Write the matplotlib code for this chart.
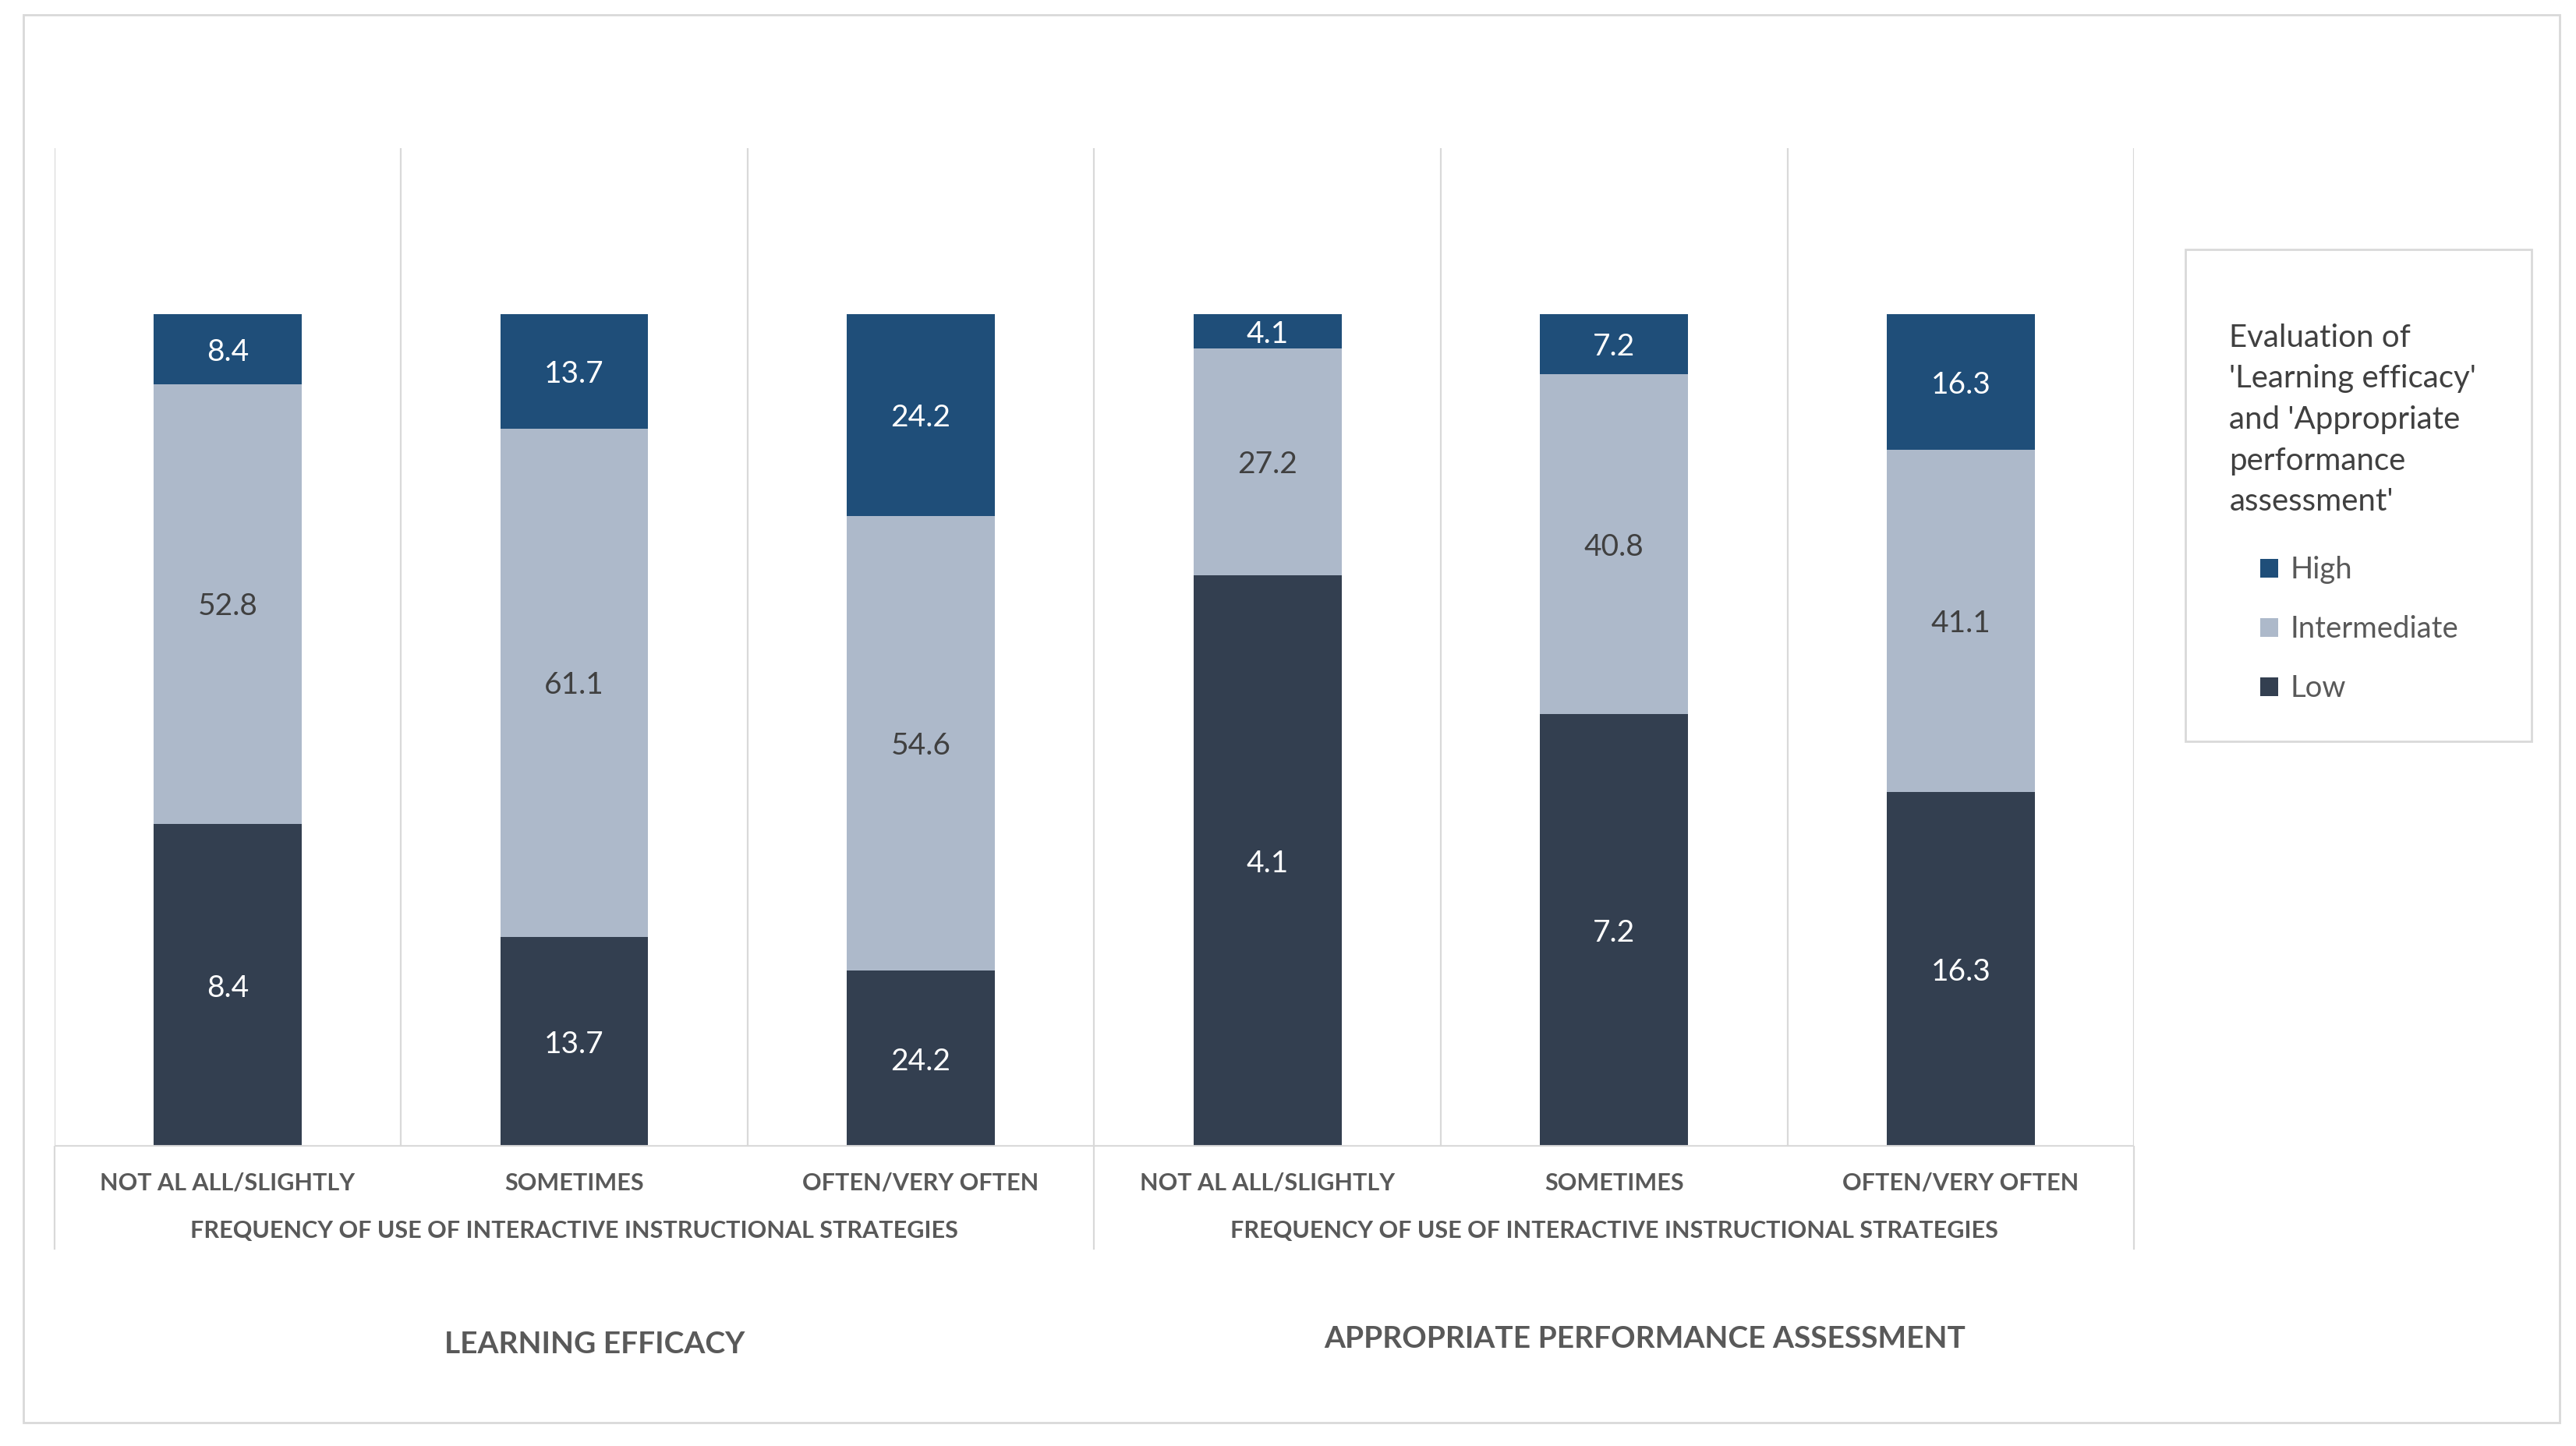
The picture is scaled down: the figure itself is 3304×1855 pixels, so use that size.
import matplotlib
matplotlib.use("Agg")
import matplotlib.pyplot as plt
from matplotlib.patches import Patch, Rectangle
import numpy as np

plt.rcParams['font.family'] = ['Lato', 'DejaVu Sans']

categories = ["NOT AL ALL/SLIGHTLY", "SOMETIMES", "OFTEN/VERY OFTEN",
              "NOT AL ALL/SLIGHTLY", "SOMETIMES", "OFTEN/VERY OFTEN"]
group_axis_label = "FREQUENCY OF USE OF INTERACTIVE INSTRUCTIONAL STRATEGIES"
groups = ["LEARNING EFFICACY", "APPROPRIATE PERFORMANCE ASSESSMENT"]

high = [8.4, 13.7, 24.2, 4.1, 7.2, 16.3]
intermediate = [52.8, 61.1, 54.6, 27.2, 40.8, 41.1]
low = [38.8, 25.2, 21.2, 68.7, 52.0, 42.6]

high_labels = ["8.4", "13.7", "24.2", "4.1", "7.2", "16.3"]
intermediate_labels = ["52.8", "61.1", "54.6", "27.2", "40.8", "41.1"]
low_labels = ["8.4", "13.7", "24.2", "4.1", "7.2", "16.3"]

legend_title = "Evaluation of\n'Learning efficacy'\nand 'Appropriate\nperformance\nassessment'"
series_names = ["High", "Intermediate", "Low"]

c_high = "#1F4E79"
c_int = "#ADB9CA"
c_low = "#333F50"
grid_c = "#D9D9D9"
txt_c = "#595959"

fig = plt.figure(figsize=(33.04, 18.55), dpi=100)

# outer border
fig.patches.append(Rectangle((30/3304, 1-1825/1855), (3283-30)/3304, (1825-19)/1855,
                             transform=fig.transFigure, fill=False, edgecolor=grid_c, lw=2))

L = 33/1568; R = 1299/1568
B = 1 - 698/880; T = 1 - 90/880
ax = fig.add_axes([L, B, R-L, T-B])

x = np.arange(len(categories))
w = 0.427
low_a = np.array(low); int_a = np.array(intermediate); high_a = np.array(high)
ax.bar(x, low_a, w, color=c_low, zorder=2)
ax.bar(x, int_a, w, bottom=low_a, color=c_int, zorder=2)
ax.bar(x, high_a, w, bottom=low_a+int_a, color=c_high, zorder=2)

fs_d = 28
for i in range(len(x)):
    ax.text(x[i], low_a[i]/2, low_labels[i], ha='center', va='center_baseline', color='white', fontsize=fs_d, zorder=3)
    ax.text(x[i], low_a[i]+int_a[i]/2, intermediate_labels[i], ha='center', va='center_baseline', color='#404040', fontsize=fs_d, zorder=3)
    ax.text(x[i], low_a[i]+int_a[i]+high_a[i]/2, high_labels[i], ha='center', va='center_baseline', color='white', fontsize=fs_d, zorder=3)

ax.set_xlim(-0.5, len(x)-0.5)
ax.set_ylim(0, 120)
for s in ax.spines.values():
    s.set_visible(False)
ax.set_xticks([]); ax.set_yticks([])

for xv in np.arange(-0.5, len(x), 1.0):
    ax.axvline(xv, color=grid_c, lw=1.6, zorder=1)
for xv in [-0.5, 2.5, 5.5]:
    ax.axvline(xv, ymin=-0.102, ymax=0, color=grid_c, lw=1.6, clip_on=False)
ax.axhline(0, color=grid_c, lw=3, zorder=4)

tr = ax.get_xaxis_transform()
for i, c in enumerate(categories):
    ax.text(x[i], -0.0362, c, transform=tr, ha='center', va='center', color=txt_c, fontsize=22,
            fontweight='bold', clip_on=False)
for g in range(2):
    ax.text(1 + 3*g, -0.084, group_axis_label, transform=tr, ha='center', va='center', color=txt_c,
            fontsize=22, fontweight='bold', clip_on=False)

fig.text(362/1568, 1-818/880, groups[0], ha='center', va='center', color=txt_c, fontsize=28, fontweight='bold')
fig.text(1001/1568, 1-815/880, groups[1], ha='center', va='center', color=txt_c, fontsize=28, fontweight='bold')

# legend box
fig.patches.append(Rectangle((1330/1568, 1-451/880), (1541-1330)/1568, (451-152)/880,
                             transform=fig.transFigure, fill=False, edgecolor=grid_c, lw=2))
fig.text(1357/1568, 1-255.5/880, legend_title, ha='left', va='center', color='#404040',
         fontsize=29, linespacing=1.52)
handles = [Patch(facecolor=c_high), Patch(facecolor=c_int), Patch(facecolor=c_low)]
leg = fig.legend(handles, series_names, loc='center left', bbox_to_anchor=(1376/1568, 1-383/880),
                 frameon=False, fontsize=27.5, labelcolor=txt_c, handlelength=0.6, handleheight=0.6,
                 handletextpad=0.4, labelspacing=1.05, borderpad=0, borderaxespad=0)

fig.savefig("out.png", dpi=100, facecolor='white')
